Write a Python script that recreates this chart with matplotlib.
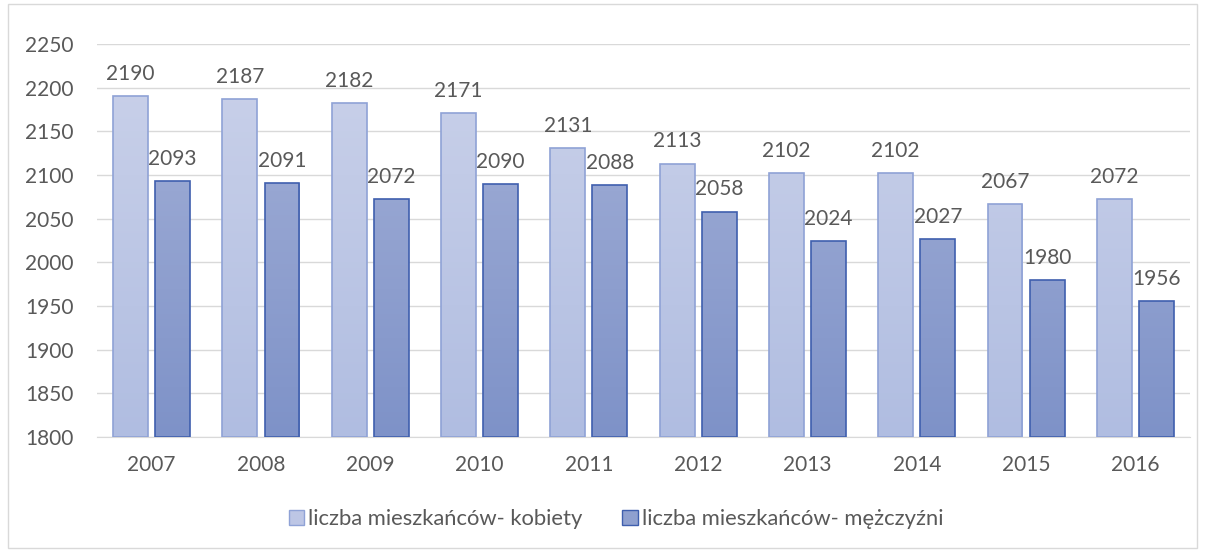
import matplotlib.pyplot as plt
import matplotlib.colors as mcolors
from matplotlib.patches import Rectangle
import numpy as np

years = ['2007', '2008', '2009', '2010', '2011', '2012', '2013', '2014', '2015', '2016']
kobiety = [2190, 2187, 2182, 2171, 2131, 2113, 2102, 2102, 2067, 2072]
mezczyzni = [2093, 2091, 2072, 2090, 2088, 2058, 2024, 2027, 1980, 1956]
labels = ['liczba mieszkańców- kobiety', 'liczba mieszkańców- mężczyźni']

plt.rcParams['font.family'] = ['Lato', 'DejaVu Sans']
txt = '#595959'
grid = '#d9d9d9'
fs = 15

fig = plt.figure(figsize=(12.05, 5.52), dpi=100)
ax = fig.add_axes([97/1205, 1-437/552, (1190-97)/1205, (437-44)/552])

# outer chart border
fig.patches.append(Rectangle((8/1205, 4/552), 1189/1205, 544/552, transform=fig.transFigure,
                             fill=False, edgecolor=grid, linewidth=1))

ymin, ymax = 1800, 2250
x = np.arange(len(years))
w = 0.32
gap = 0.065

def grad_bars(xs, vals, c_top, c_bot, edge):
    cmap = mcolors.LinearSegmentedColormap.from_list('g', [c_bot, c_top])
    grad = np.linspace(0, 1, 256).reshape(-1, 1)
    bars = ax.bar(xs, np.array(vals) - ymin, w, bottom=ymin, color='none',
                  edgecolor=edge, linewidth=1.2, zorder=3)
    for b in bars:
        x0 = b.get_x()
        im = ax.imshow(grad, cmap=cmap, origin='lower', aspect='auto',
                       extent=[x0, x0 + b.get_width(), ymin, ymax], zorder=2)
        im.set_clip_path(b)
    return bars

grad_bars(x - w/2 - gap/2, kobiety, '#cbd2ea', '#b0bde1', '#8fa2d6')
grad_bars(x + w/2 + gap/2, mezczyzni, '#a6b2d8', '#7e92c8', '#3f5fae')

for xs, vals in [(x - w/2 - gap/2, kobiety), (x + w/2 + gap/2, mezczyzni)]:
    for xi, v in zip(xs, vals):
        ax.text(xi, v + 14, str(v), ha='center', va='bottom', fontsize=fs, color=txt)

ax.set_xlim(-0.5, len(years) - 0.5)
ax.set_ylim(ymin, ymax)
ax.set_yticks(np.arange(1800, 2251, 50))
ax.set_xticks(x)
ax.set_xticklabels(years)
ax.tick_params(axis='both', length=0, labelsize=fs, labelcolor=txt)
ax.tick_params(axis='y', pad=17)
ax.tick_params(axis='x', pad=13)
ax.grid(axis='y', color=grid, linewidth=1)
ax.set_axisbelow(True)
for s in ['top', 'right', 'left']:
    ax.spines[s].set_visible(False)
ax.spines['bottom'].set_color(grid)

handles = [Rectangle((0, 0), 1, 1, facecolor='#bdc6e5', edgecolor='#8fa2d6'),
           Rectangle((0, 0), 1, 1, facecolor='#8fa0cf', edgecolor='#3f5fae')]
fig.legend(handles, labels, loc='center', bbox_to_anchor=(616/1205, 1-519/552), ncol=2,
           frameon=False, fontsize=15.8, labelcolor=txt, handlelength=0.7, handleheight=0.7,
           handletextpad=0.2, columnspacing=1.8)

fig.savefig('out.png', dpi=100)
